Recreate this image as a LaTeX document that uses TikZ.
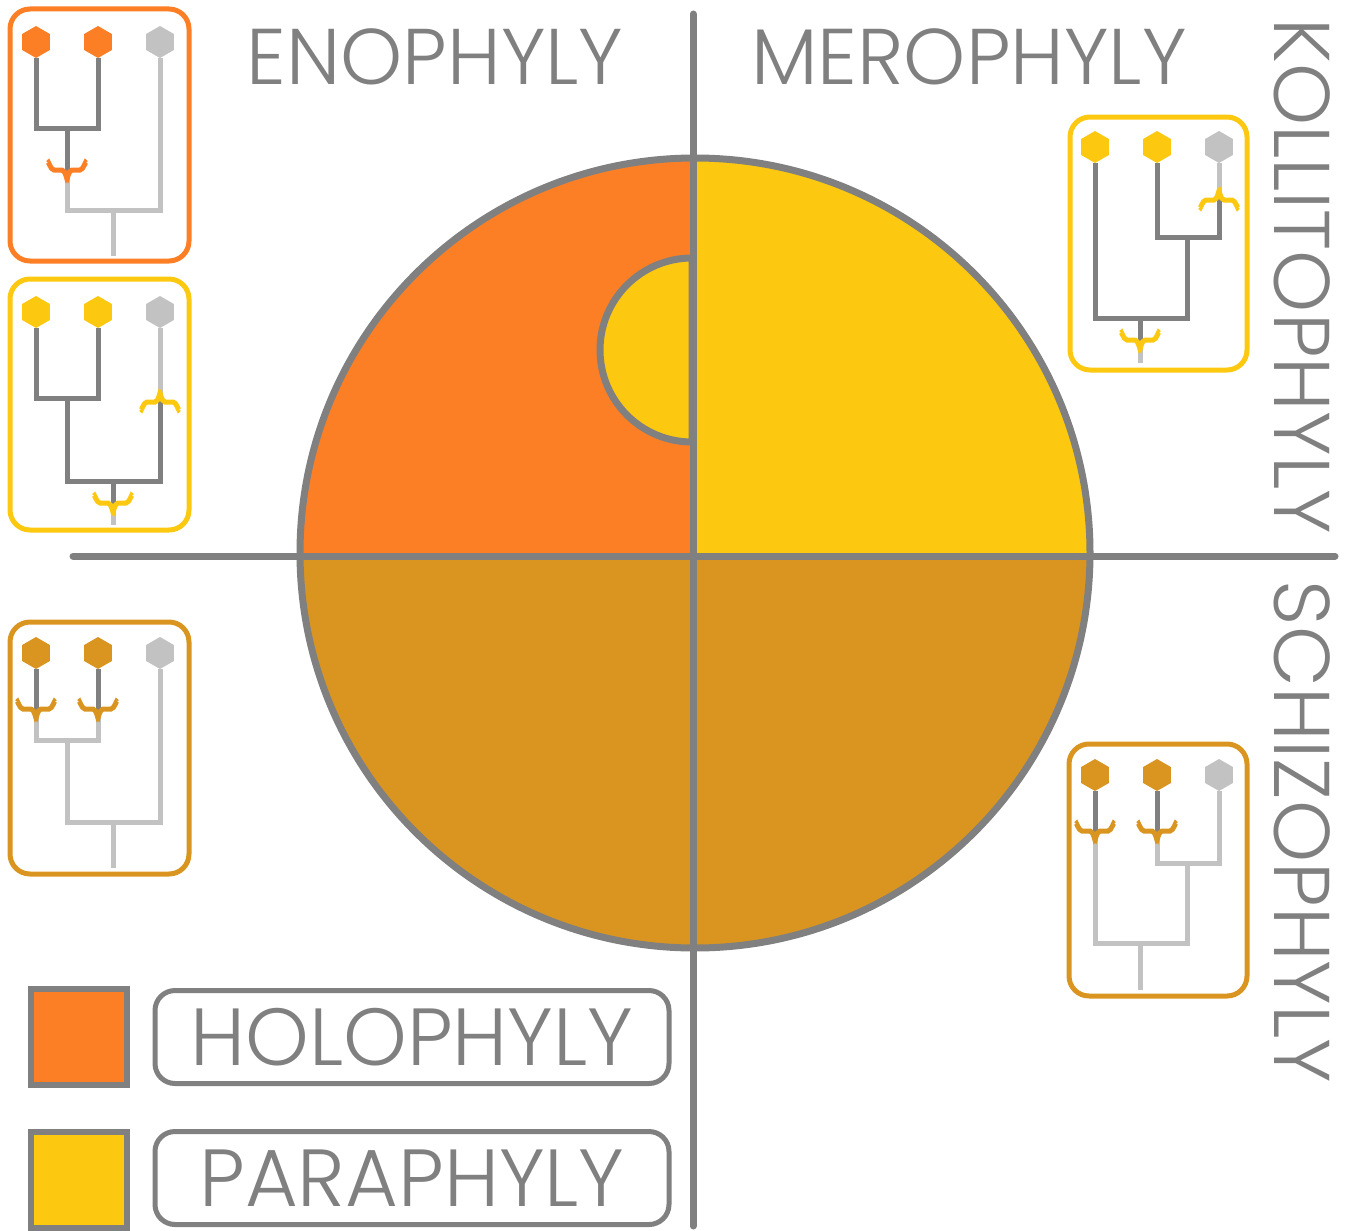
\documentclass[tikz,border=0pt]{standalone}
\usepackage{fontspec}
\setmainfont{Poppins Light}
\usetikzlibrary{shapes.geometric}
\definecolor{holo}{RGB}{252,127,37}
\definecolor{para}{RGB}{253,200,16}
\definecolor{schiz}{RGB}{218,149,33}
\definecolor{axisgray}{RGB}{128,128,128}
\definecolor{palegray}{RGB}{194,194,194}
\tikzset{
  hex/.style={regular polygon, regular polygon sides=6, shape border rotate=30,
    minimum size=32pt, inner sep=0pt},
  darkbranch/.style={draw=axisgray, line width=5pt},
  lightbranch/.style={draw=palegray, line width=5pt},
  treebox/.style={line width=5pt, rounded corners=20pt},
  axislabel/.style={text=axisgray, inner sep=0pt, font=\fontsize{79}{80}\selectfont},
  legsq/.style={draw=axisgray, line width=6pt, minimum size=96pt, inner sep=0pt},
  legbox/.style={draw=axisgray, line width=5pt, rounded corners=20pt,
    minimum width=514pt, minimum height=93pt, inner sep=0pt, text=axisgray,
    font=\fontsize{81}{82}\selectfont},
  apodown/.pic={\draw[line width=5pt] (-19,-8) to[out=90,in=180] (-13,-1) -- (-5,-1)
    to[out=0,in=-90] (0,7) to[out=-90,in=180] (5,-1) -- (13,-1) to[out=0,in=90] (19,-8);},
  apoup/.pic={\draw[line width=5pt] (-19,8) to[out=-90,in=180] (-13,1) -- (-5,1)
    to[out=0,in=90] (0,-7) to[out=90,in=180] (5,1) -- (13,1) to[out=0,in=-90] (19,8);}
}
\begin{document}
\begin{tikzpicture}[x=1pt,y=-1pt]
  \useasboundingbox (0,0) rectangle (1349,1231);
  \begin{scope}
    \clip (695,553) circle[radius=395];
    \fill[holo] (280,140) rectangle (693,556);
    \fill[para] (693,140) rectangle (1110,556);
    \fill[schiz] (280,556) rectangle (1110,970);
  \end{scope}
  \draw[axisgray, line width=7pt] (695,553) circle[radius=395];
  \draw[axisgray, fill=para, line width=7pt] (692,258) arc[start angle=270, end angle=90, radius=92] -- cycle;
  \coordinate (west) at (73,556);
  \coordinate (east) at (1335,556);
  \coordinate (north) at (693,14);
  \coordinate (south) at (693,1226);
  \draw[axisgray, line width=7pt, line cap=round] (west) -- (east);
  \draw[axisgray, line width=7pt, line cap=round] (north) -- (south);

  \node[axislabel] (eno) at (435,57) {ENOPHYLY};
  \node[axislabel] (mero) at (969,57) {MEROPHYLY};
  \node[axislabel, rotate=-90] (kolli) at (1302,276) {KOLLITOPHYLY};
  \node[axislabel, rotate=-90] (schizo) at (1302,832) {SCHIZOPHYLY};

  \node[legsq, fill=holo] (holosq) at (79,1037) {};
  \node[legbox] (holobox) at (412,1037) {HOLOPHYLY};
  \node[legsq, fill=para] (parasq) at (79,1180) {};
  \node[legbox] (parabox) at (412,1178) {PARAPHYLY};

  % tree 1
  \draw[treebox, holo] (10,9) rectangle (189,261);
  \node[hex, fill=holo] (t1a) at (36,42) {};
  \node[hex, fill=holo] (t1b) at (98,42) {};
  \node[hex, fill=palegray] (t1c) at (160,42) {};
  \coordinate (t1ab) at (67,128);
  \coordinate (t1m) at (67,171);
  \coordinate (t1abc) at (113,210);
  \coordinate (t1r) at (113,256);
  \draw[darkbranch] (t1a) |- (t1ab) -| (t1b);
  \draw[darkbranch] (t1ab) -- (t1m);
  \draw[lightbranch] (t1m) |- (t1abc) -| (t1c);
  \draw[lightbranch] (t1abc) -- (t1r);
  \pic[holo] at (t1m) {apodown};

  % tree 2
  \draw[treebox, para] (10,279) rectangle (189,530);
  \node[hex, fill=para] (t2a) at (36,312) {};
  \node[hex, fill=para] (t2b) at (98,312) {};
  \node[hex, fill=palegray] (t2c) at (160,312) {};
  \coordinate (t2ab) at (67,398);
  \coordinate (t2cm) at (160,401);
  \coordinate (t2abc) at (113,481);
  \coordinate (t2m) at (113,504);
  \coordinate (t2r) at (113,525);
  \draw[darkbranch] (t2a) |- (t2ab) -| (t2b);
  \draw[lightbranch] (t2c) -- (t2cm);
  \draw[darkbranch] (t2ab) |- (t2abc) -| (t2cm);
  \draw[darkbranch] (t2abc) -- (t2m);
  \draw[lightbranch] (t2m) -- (t2r);
  \pic[para] at (t2cm) {apoup};
  \pic[para] at (t2m) {apodown};

  % tree 3
  \draw[treebox, schiz] (10,622) rectangle (189,874);
  \node[hex, fill=schiz] (t3a) at (36,653) {};
  \node[hex, fill=schiz] (t3b) at (98,653) {};
  \node[hex, fill=palegray] (t3c) at (160,653) {};
  \coordinate (t3am) at (36,710);
  \coordinate (t3bm) at (98,710);
  \coordinate (t3ab) at (67,740);
  \coordinate (t3abc) at (113,822);
  \coordinate (t3r) at (113,868);
  \draw[darkbranch] (t3a) -- (t3am);
  \draw[darkbranch] (t3b) -- (t3bm);
  \draw[lightbranch] (t3am) |- (t3ab) -| (t3bm);
  \draw[lightbranch] (t3ab) |- (t3abc) -| (t3c);
  \draw[lightbranch] (t3abc) -- (t3r);
  \pic[schiz] at (t3am) {apodown};
  \pic[schiz] at (t3bm) {apodown};

  % tree 4
  \draw[treebox, para] (1070,117) rectangle (1247,370);
  \node[hex, fill=para] (t4a) at (1095,147) {};
  \node[hex, fill=para] (t4b) at (1157,147) {};
  \node[hex, fill=palegray] (t4c) at (1219,147) {};
  \coordinate (t4cm) at (1219,199);
  \coordinate (t4bc) at (1187,237);
  \coordinate (t4abc) at (1140,318);
  \coordinate (t4m) at (1140,341);
  \coordinate (t4r) at (1140,363);
  \draw[lightbranch] (t4c) -- (t4cm);
  \draw[darkbranch] (t4b) |- (t4bc) -| (t4cm);
  \draw[darkbranch] (t4a) |- (t4abc) -| (t4bc);
  \draw[darkbranch] (t4abc) -- (t4m);
  \draw[lightbranch] (t4m) -- (t4r);
  \pic[para] at (t4cm) {apoup};
  \pic[para] at (t4m) {apodown};

  % tree 5
  \draw[treebox, schiz] (1069,744) rectangle (1247,996);
  \node[hex, fill=schiz] (t5a) at (1095,775) {};
  \node[hex, fill=schiz] (t5b) at (1157,775) {};
  \node[hex, fill=palegray] (t5c) at (1219,775) {};
  \coordinate (t5am) at (1095,832);
  \coordinate (t5bm) at (1157,832);
  \coordinate (t5bc) at (1187,863);
  \coordinate (t5abc) at (1140,943);
  \coordinate (t5r) at (1140,990);
  \draw[darkbranch] (t5a) -- (t5am);
  \draw[darkbranch] (t5b) -- (t5bm);
  \draw[lightbranch] (t5bm) |- (t5bc) -| (t5c);
  \draw[lightbranch] (t5am) |- (t5abc) -| (t5bc);
  \draw[lightbranch] (t5abc) -- (t5r);
  \pic[schiz] at (t5am) {apodown};
  \pic[schiz] at (t5bm) {apodown};
\end{tikzpicture}
\end{document}
